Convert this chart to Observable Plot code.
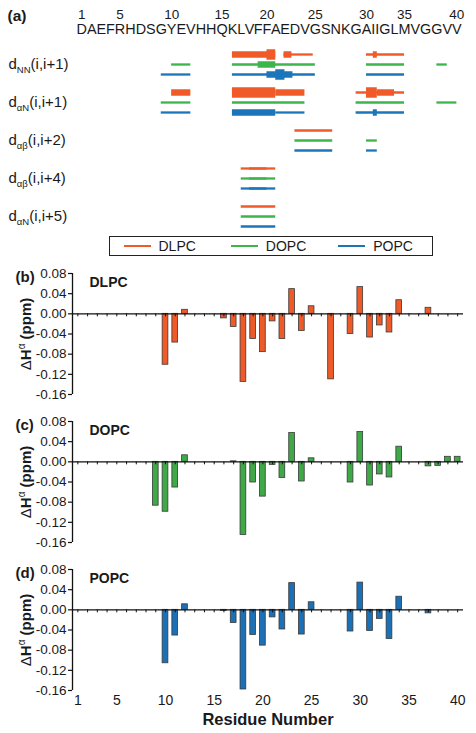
<!DOCTYPE html>
<html><head><meta charset="utf-8">
<script src="https://cdn.jsdelivr.net/npm/d3@7"></script>
<script src="https://cdn.jsdelivr.net/npm/@observablehq/plot@0.6"></script>
<style>
body{margin:0;background:#fff;font-family:"Liberation Sans",Arial,sans-serif;color:#1a1a1a;}
#wrap{width:476px;}
svg{display:block;}
.legend{box-sizing:border-box;margin:2px 0 0 109px;width:324px;height:20px;border:1.5px solid #222;display:flex;align-items:center;font-size:14px;color:#1a1a1a;}
.legend .item{display:flex;align-items:center;width:110px;padding-left:13.5px;box-sizing:border-box;}
.legend .sw{display:inline-block;width:27px;height:0;border-top:2.5px solid;margin-right:8px;}
</style></head>
<body><div id="wrap"></div>
<script>
// ---------- data ----------
const sequence = "DAEFRHDSGYEVHHQKLVFFAEDVGSNKGAIIGLMVGGVV";
const residues = d3.range(1, 41);
const topTicks = [1, 5, 10, 15, 20, 25, 30, 35, 40];
const xTicks = [1, 5, 10, 15, 20, 25, 30, 35, 40];
const yTicks = [-0.16, -0.12, -0.08, -0.04, 0, 0.04, 0.08];
const lipids = ["DLPC", "DOPC", "POPC"];
const panelLetters = ["(b)", "(c)", "(d)"];
const lineColors = ["#f05a28", "#3cb54a", "#1b75bb"];
const barColors = ["#ef5a29", "#3fa948", "#1c70b6"];

const noeTypes = ["dNN(i,i+1)", "dαN(i,i+1)", "dαβ(i,i+2)", "dαβ(i,i+4)", "dαN(i,i+5)"];
const noeSubs = ["NN", "αN", "αβ", "αβ", "αN"];
const noeSpans = ["(i,i+1)", "(i,i+1)", "(i,i+2)", "(i,i+4)", "(i,i+5)"];

// NOE connectivities: [lipid, from residue, to residue, strength w/m/s]
const dNN = [
  ["DLPC", 16, 21, "m"], ["DLPC", 20, 21, "s"], ["DLPC", 21.9, 24.8, "w"], ["DLPC", 21.9, 22.7, "m"],
  ["DLPC", 30, 35, "w"], ["DLPC", 31, 32, "m"],
  ["DOPC", 10, 12, "w"], ["DOPC", 16, 25, "w"], ["DOPC", 19, 21, "m"], ["DOPC", 30, 35, "w"], ["DOPC", 38, 39, "w"],
  ["POPC", 9, 12, "w"], ["POPC", 16, 25, "w"], ["POPC", 20, 22.8, "m"], ["POPC", 21, 22, "s"], ["POPC", 30, 35, "w"]
];
const daN = [
  ["DLPC", 10, 12, "m"], ["DLPC", 16, 21, "s"], ["DLPC", 21, 24, "m"], ["DLPC", 29, 35, "w"],
  ["DLPC", 30, 32, "s"], ["DLPC", 32, 34, "m"],
  ["DOPC", 9, 12, "w"], ["DOPC", 16, 24, "w"], ["DOPC", 29, 35, "w"], ["DOPC", 38, 40, "w"],
  ["POPC", 9, 12, "w"], ["POPC", 16, 21, "m"], ["POPC", 21, 24, "w"], ["POPC", 29, 35, "w"], ["POPC", 31, 32, "m"]
];
const dab2 = [
  ["DLPC", 23, 26.7, "w"],
  ["DOPC", 23, 26.7, "w"], ["DOPC", 30, 32, "w"],
  ["POPC", 23, 26.7, "w"], ["POPC", 30, 32, "w"]
];
const dab4 = [
  ["DLPC", 17, 20, "w"], ["DLPC", 18, 21, "w"],
  ["DOPC", 17, 20, "w"], ["DOPC", 18, 21, "w"],
  ["POPC", 17, 20, "w"], ["POPC", 18, 21, "w"]
];
const daN5 = [
  ["DLPC", 17, 21, "w"], ["DOPC", 17, 21, "w"], ["POPC", 17, 21, "w"]
];

// chemical shift deviations ΔHα (ppm): [residue, value]
const dlpcBars = [[10,-0.101],[11,-0.057],[12,0.008],[16,-0.009],[17,-0.026],[18,-0.135],[19,-0.050],[20,-0.076],[21,-0.015],[22,-0.050],[23,0.049],[24,-0.034],[25,0.015],[27,-0.130],[29,-0.040],[30,0.053],[31,-0.047],[32,-0.023],[33,-0.037],[34,0.027],[37,0.012]];
const dopcBars = [[9,-0.087],[10,-0.099],[11,-0.051],[12,0.013],[17,0.001],[18,-0.145],[19,-0.041],[20,-0.069],[21,-0.006],[22,-0.032],[23,0.057],[24,-0.039],[25,0.007],[29,-0.041],[30,0.059],[31,-0.047],[32,-0.025],[33,-0.031],[34,0.030],[37,-0.009],[38,-0.008],[39,0.010],[40,0.010]];
const popcBars = [[10,-0.106],[11,-0.051],[12,0.011],[16,-0.002],[17,-0.026],[18,-0.158],[19,-0.050],[20,-0.071],[21,-0.015],[22,-0.039],[23,0.053],[24,-0.049],[25,0.015],[29,-0.043],[30,0.054],[31,-0.042],[32,-0.018],[33,-0.058],[34,0.026],[37,-0.007]];

// ---------- helpers ----------
const FONT = "'Liberation Sans', Arial, sans-serif";
const SVGNS = "http://www.w3.org/2000/svg";
function richText(svg, plain, parts) {
  svg.querySelectorAll("text").forEach(t => {
    if (t.textContent === plain) {
      t.textContent = "";
      parts.forEach(p => {
        const ts = document.createElementNS(SVGNS, "tspan");
        ts.textContent = p.t;
        if (p.size) ts.setAttribute("font-size", p.size);
        if (p.dy) ts.setAttribute("dy", p.dy);
        if (p.weight) ts.setAttribute("font-weight", p.weight);
        t.appendChild(ts);
      });
    }
  });
}
const wrap = document.getElementById("wrap");

// ---------- panel (a) ----------
const seqFontSize = 14.4;
const ctx = document.createElement("canvas").getContext("2d");
ctx.font = `${seqFontSize}px 'Liberation Sans'`;
const seqStart = 76;
const letterCenters = residues.map(r =>
  seqStart + (ctx.measureText(sequence.slice(0, r)).width + ctx.measureText(sequence.slice(0, r - 1)).width) / 2);

const strengthWidth = {w: 2.3, m: 6.5, s: 10.5};
const strengthRank = {w: 0, m: 1, s: 2};
const noe = [dNN, daN, dab2, dab4, daN5]
  .flatMap((segs, i) => segs.map(([lipid, from, to, s]) => ({type: noeTypes[i], lipid, from, to, s})))
  .sort((a, b) => strengthRank[a.s] - strengthRank[b.s]);

const plotA = Plot.plot({
  width: 476, height: 234,
  marginTop: 0, marginBottom: 0, marginLeft: 0, marginRight: 0,
  style: {fontFamily: FONT, fontSize: "14px", color: "#1a1a1a", background: "white"},
  x: {type: "linear", domain: residues, range: letterCenters, axis: null},
  y: {type: "point", domain: noeTypes, range: [63.3, 216], padding: 0, axis: null},
  marks: [
    Plot.text(["(a)"], {frameAnchor: "top-left", dx: 7, dy: 16, textAnchor: "start", lineAnchor: "middle", fontWeight: "bold", fontSize: 15.5}),
    Plot.text(topTicks, {x: d => d, text: d => String(d), frameAnchor: "top", dy: 14, lineAnchor: "middle", fontSize: 13.5}),
    Plot.text(residues, {x: d => d, text: d => sequence[d - 1], frameAnchor: "top", dy: 28.7, lineAnchor: "middle", fontSize: seqFontSize}),
    Plot.text(noeTypes, {y: d => d, text: d => d, frameAnchor: "left", dx: 8, textAnchor: "start", lineAnchor: "middle", fontSize: 15}),
    ...lipids.map((l, li) => Plot.ruleY(noe.filter(d => d.lipid === l), {
      y: "type", x1: "from", x2: "to", stroke: lineColors[li],
      strokeWidth: d => strengthWidth[d.s], strokeLinecap: "butt", dy: (li - 1) * 10
    }))
  ]
});
noeTypes.forEach((lab, i) => richText(plotA, lab, [
  {t: "d"}, {t: noeSubs[i], size: 9.5, dy: 4}, {t: noeSpans[i], dy: -4}
]));
wrap.appendChild(plotA);

// ---------- legend ----------
const legend = document.createElement("div");
legend.className = "legend";
lipids.forEach((l, li) => {
  const item = document.createElement("div");
  item.className = "item";
  const sw = document.createElement("span");
  sw.className = "sw";
  sw.style.borderTopColor = lineColors[li];
  const lab = document.createElement("span");
  lab.textContent = l;
  item.appendChild(sw); item.appendChild(lab);
  legend.appendChild(item);
});
wrap.appendChild(legend);

// ---------- panels (b)-(d) ----------
const xDomain = [0.45, 40.6];
const yLabel = "ΔHα (ppm)";
[dlpcBars, dopcBars, popcBars].forEach((bars, li) => {
  const last = li === 2;
  const height = last ? 181 : 148;
  const marks = [
    Plot.rect(bars, {
      x1: d => d[0] - 0.5, x2: d => d[0] + 0.5, y1: 0, y2: d => d[1],
      insetLeft: 2, insetRight: 2, fill: barColors[li], stroke: "#3a3a3a", strokeWidth: 0.8
    }),
    Plot.ruleY([0], {stroke: "#111", strokeWidth: 1.3}),
    Plot.ruleX(residues, {x: d => d, y1: 0, y2: 0, insetBottom: -3, stroke: "#111", strokeWidth: 1}),
    Plot.ruleX([xDomain[0]], {stroke: "#111", strokeWidth: 1.3}),
    Plot.axisY(yTicks, {tickSize: 4, tickPadding: 2, tickFormat: d => d.toFixed(2), label: null, stroke: "#111", strokeWidth: 1.2}),
    Plot.text([panelLetters[li]], {frameAnchor: "top-left", dx: -57, dy: -2, textAnchor: "start", lineAnchor: "top", fontWeight: "bold", fontSize: 15}),
    Plot.text([lipids[li]], {frameAnchor: "top-left", dx: 17, dy: 3.5, textAnchor: "start", lineAnchor: "top", fontWeight: "bold", fontSize: 14}),
    Plot.text([yLabel], {frameAnchor: "left", dx: -46, rotate: -90, textAnchor: "middle", lineAnchor: "middle", fontWeight: "bold", fontSize: 15})
  ];
  if (last) {
    marks.push(
      Plot.text(xTicks, {x: d => d, text: d => String(d), frameAnchor: "bottom", dy: 10.5, lineAnchor: "middle", fontSize: 14}),
      Plot.text(["Residue Number"], {frameAnchor: "bottom", dy: 29, lineAnchor: "middle", fontWeight: "bold", fontSize: 16.5})
    );
  }
  const p = Plot.plot({
    width: 476, height,
    marginTop: 17, marginBottom: last ? 43 : 10, marginLeft: 72, marginRight: 13,
    style: {fontFamily: FONT, fontSize: "13.5px", color: "#1a1a1a", background: "white", overflow: "visible"},
    x: {type: "linear", domain: xDomain, axis: null},
    y: {type: "linear", domain: [-0.16, 0.08], axis: null},
    marks
  });
  richText(p, yLabel, [
    {t: "Δ", weight: "normal"}, {t: "H"}, {t: "α", size: 10, dy: -6, weight: "normal"}, {t: " (ppm)", dy: 6}
  ]);
  wrap.appendChild(p);
});
</script>
</body></html>
